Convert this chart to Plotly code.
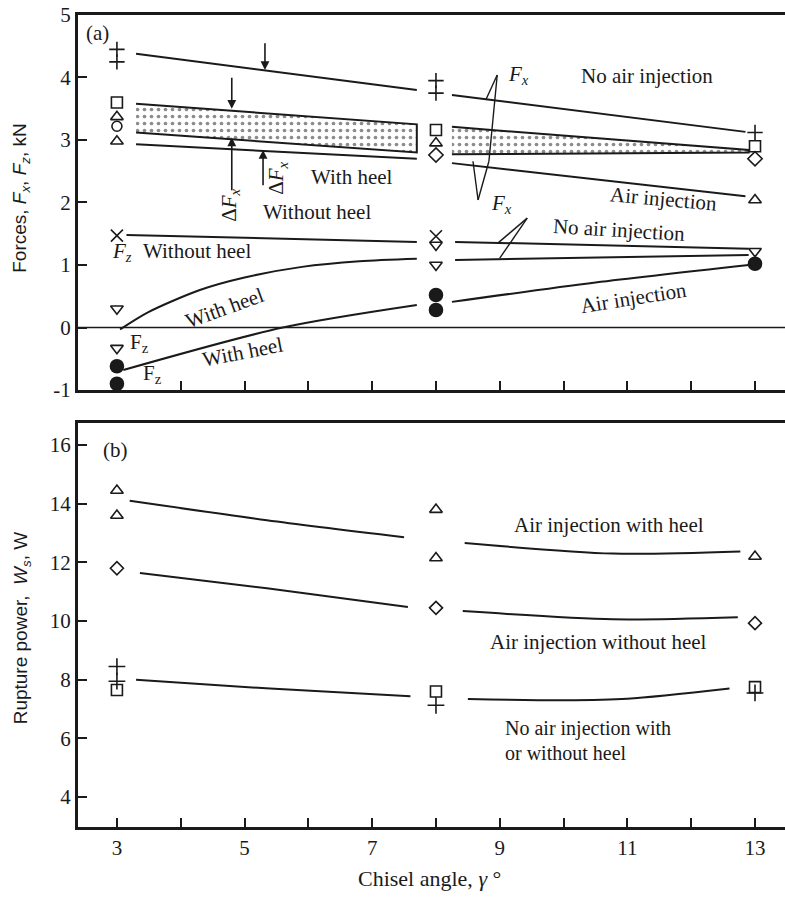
import plotly.graph_objects as go

# ---------------- data: panel (a) markers ----------------
a_plus_x = [3, 3, 8, 8, 13]
a_plus_y = [4.45, 4.25, 3.95, 3.75, 3.12]
a_square_x = [3, 8, 13]
a_square_y = [3.60, 3.16, 2.90]
a_triup_x = [3, 3, 8, 13]
a_triup_y = [3.37, 2.98, 2.95, 2.04]
a_circle_x = [3]
a_circle_y = [3.22]
a_diamond_x = [8, 13]
a_diamond_y = [2.76, 2.70]
a_cross_x = [3, 8]
a_cross_y = [1.47, 1.46]
a_tridown_x = [3, 3, 8, 8, 13]
a_tridown_y = [0.30, -0.33, 1.32, 1.00, 1.22]
a_dot_x = [3, 3, 8, 8, 13]
a_dot_y = [-0.62, -0.90, 0.52, 0.28, 1.02]

# ---------------- data: panel (a) curves ----------------
fx_noair_l_x = [3.3, 7.7];  fx_noair_l_y = [4.38, 3.80]
fx_noair_r_x = [8.25, 12.85]; fx_noair_r_y = [3.72, 3.13]
band_up_l_x = [3.3, 7.7];  band_up_l_y = [3.58, 3.25]
band_lo_l_x = [3.3, 7.7];  band_lo_l_y = [3.12, 2.80]
band_up_r_x = [8.25, 12.9]; band_up_r_y = [3.21, 2.84]
band_lo_r_x = [8.25, 12.9]; band_lo_r_y = [2.77, 2.80]
fx_air_l_x = [3.3, 7.7];  fx_air_l_y = [2.93, 2.70]
fx_air_r_x = [8.25, 12.85]; fx_air_r_y = [2.63, 2.10]
fz_noheel_l_x = [3.15, 7.7]; fz_noheel_l_y = [1.48, 1.37]
fz_noheel_r_x = [8.3, 12.9]; fz_noheel_r_y = [1.37, 1.26]
fz_heel_l_x = [3.05, 3.5, 4.3, 5.0, 5.9, 6.8, 7.7]
fz_heel_l_y = [-0.03, 0.25, 0.60, 0.80, 0.97, 1.06, 1.10]
fz_heel_r_x = [8.3, 12.9]; fz_heel_r_y = [1.08, 1.16]
fz_air_l_x = [3.1, 5.6, 7.7]; fz_air_l_y = [-0.68, 0.0, 0.36]
fz_air_r_x = [8.25, 10.5, 12.9]; fz_air_r_y = [0.41, 0.72, 1.00]

# ---------------- data: panel (b) markers ----------------
b_tri_x = [3, 3, 8, 8, 13]
b_tri_y = [14.45, 13.60, 13.80, 12.15, 12.20]
b_diamond_x = [3, 8, 13]
b_diamond_y = [11.80, 10.45, 9.93]
b_plus_x = [3, 3, 8, 13]
b_plus_y = [8.45, 7.95, 7.13, 7.55]
b_square_x = [3, 8, 13]
b_square_y = [7.65, 7.60, 7.75]

# ---------------- data: panel (b) curves ----------------
ws_heel_l_x = [3.2, 5.35, 7.5];  ws_heel_l_y = [14.1, 13.44, 12.86]
ws_heel_r_x = [8.45, 10.77, 12.77]; ws_heel_r_y = [12.66, 12.30, 12.37]
ws_noheel_l_x = [3.36, 5.35, 7.56]; ws_noheel_l_y = [11.64, 11.12, 10.48]
ws_noheel_r_x = [8.42, 10.77, 12.73]; ws_noheel_r_y = [10.34, 10.06, 10.13]
ws_noair_l_x = [3.3, 5.4, 7.6]; ws_noair_l_y = [8.0, 7.70, 7.44]
ws_noair_r_x = [8.5, 10.0, 11.0, 12.6]; ws_noair_r_y = [7.34, 7.30, 7.35, 7.70]

x_ticks = list(range(3, 14))
x_ticktext = [str(v) if v % 2 == 1 else "" for v in x_ticks]
a_yticks = [-1, 0, 1, 2, 3, 4, 5]
b_yticks = [4, 6, 8, 10, 12, 14, 16]

SERIF = "Liberation Serif"
INK = "#1a1a1a"
LBL = 21

fig = go.Figure()

def curve(xs, ys, ax="x", ay="y", w=2):
    fig.add_trace(go.Scatter(x=xs, y=ys, mode="lines", xaxis=ax, yaxis=ay,
                             line=dict(color=INK, width=w, shape="spline", smoothing=0.8),
                             showlegend=False, hoverinfo="skip"))

def marks(xs, ys, sym, size, ax="x", ay="y", lw=1.6):
    fig.add_trace(go.Scatter(x=xs, y=ys, mode="markers", xaxis=ax, yaxis=ay,
                             marker=dict(symbol=sym, size=size, color=INK,
                                         line=dict(color=INK, width=lw)),
                             showlegend=False, hoverinfo="skip"))

def band(ux, uy, lx, ly):
    fig.add_trace(go.Scatter(x=ux + lx[::-1], y=uy + ly[::-1], mode="lines",
                             fill="toself", fillcolor="white",
                             fillpattern=dict(shape=".", size=7, solidity=0.22,
                                              fgcolor=INK, bgcolor="white"),
                             line=dict(color=INK, width=2),
                             showlegend=False, hoverinfo="skip"))

# zero line
fig.add_trace(go.Scatter(x=[2.39, 13.47], y=[0, 0], mode="lines",
                         line=dict(color=INK, width=1.3), showlegend=False, hoverinfo="skip"))

band(band_up_l_x, band_up_l_y, band_lo_l_x, band_lo_l_y)
band(band_up_r_x, band_up_r_y, band_lo_r_x, band_lo_r_y)
for xs, ys in [(fx_noair_l_x, fx_noair_l_y), (fx_noair_r_x, fx_noair_r_y),
               (fx_air_l_x, fx_air_l_y), (fx_air_r_x, fx_air_r_y),
               (fz_noheel_l_x, fz_noheel_l_y), (fz_noheel_r_x, fz_noheel_r_y),
               (fz_heel_l_x, fz_heel_l_y), (fz_heel_r_x, fz_heel_r_y),
               (fz_air_l_x, fz_air_l_y), (fz_air_r_x, fz_air_r_y)]:
    curve(xs, ys)

marks(a_plus_x, a_plus_y, "cross-thin-open", 11)
marks(a_square_x, a_square_y, "square-open", 11)
marks(a_triup_x, a_triup_y, "triangle-up-open", 11)
marks(a_circle_x, a_circle_y, "circle-open", 10)
marks(a_diamond_x, a_diamond_y, "diamond-open", 11)
marks(a_cross_x, a_cross_y, "x-thin-open", 12)
marks(a_tridown_x, a_tridown_y, "triangle-down-open", 11)
marks(a_dot_x, a_dot_y, "circle", 13)

for xs, ys in [(ws_heel_l_x, ws_heel_l_y), (ws_heel_r_x, ws_heel_r_y),
               (ws_noheel_l_x, ws_noheel_l_y), (ws_noheel_r_x, ws_noheel_r_y),
               (ws_noair_l_x, ws_noair_l_y), (ws_noair_r_x, ws_noair_r_y)]:
    curve(xs, ys, "x2", "y2")

marks(b_tri_x, b_tri_y, "triangle-up-open", 11, "x2", "y2")
marks(b_diamond_x, b_diamond_y, "diamond-open", 10, "x2", "y2")
marks(b_plus_x, b_plus_y, "cross-thin-open", 12, "x2", "y2")
marks(b_square_x, b_square_y, "square-open", 11, "x2", "y2")

ann = []
def txt(x, y, t, size=LBL, xref="x", yref="y", angle=0, xanchor="center",
        yanchor="middle", family=SERIF, align="center"):
    ann.append(dict(x=x, y=y, xref=xref, yref=yref, text=t, showarrow=False,
                    textangle=angle, xanchor=xanchor, yanchor=yanchor, align=align,
                    font=dict(family=family, size=size, color=INK)))

def arrow(x, y0, y1):
    ann.append(dict(x=x, y=y1, ax=x, ay=y0, xref="x", yref="y", axref="x", ayref="y",
                    text="", showarrow=True, arrowhead=2, arrowsize=1.1,
                    arrowwidth=1.6, arrowcolor=INK))

# panel (a) labels
txt(2.69, 4.71, "(a)")
txt(9.29, 4.04, "<i>F<sub>x</sub></i>")
txt(11.31, 4.02, "No air injection")
txt(6.68, 2.41, "With heel")
txt(6.13, 1.85, "Without heel")
txt(11.57, 2.06, "Air injection", angle=5)
txt(9.02, 1.97, "<i>F<sub>x</sub></i>")
txt(10.87, 1.56, "No air injection", angle=3.5)
txt(3.08, 1.21, "<i>F<sub>z</sub></i>")
txt(4.26, 1.22, "Without heel")
txt(4.69, 0.31, "With heel", angle=-20)
txt(3.36, -0.24, "F<sub>z</sub>")
txt(4.98, -0.39, "With heel", angle=-11)
txt(3.55, -0.74, "F<sub>z</sub>")
txt(11.09, 0.48, "Air injection", angle=-9)
txt(4.76, 1.95, "Δ<i>F<sub>x</sub></i>", angle=-90)
txt(5.51, 2.38, "Δ<i>F<sub>x</sub></i>", angle=-90)

arrow(5.32, 4.57, 4.12)
arrow(4.8, 4.02, 3.50)
arrow(4.8, 2.17, 3.04)
arrow(5.29, 2.25, 2.84)

# panel (b) labels
txt(2.97, 15.83, "(b)", xref="x2", yref="y2")
txt(10.71, 13.27, "Air injection with heel", xref="x2", yref="y2")
txt(10.54, 9.28, "Air injection without heel", xref="x2", yref="y2")
txt(9.05, 6.33, "No air injection with", xref="x2", yref="y2", xanchor="left", size=20)
txt(9.05, 5.52, "or without heel", xref="x2", yref="y2", xanchor="left", size=20)

# axis titles
txt(-0.08, 0.78, "Forces, <i>F<sub>x</sub></i>, <i>F<sub>z</sub></i>, kN", xref="paper", yref="paper",
    angle=-90, size=19, family="Liberation Sans")
txt(-0.08, 0.30, "Rupture power,  <i>W<sub>s</sub></i>, W", xref="paper", yref="paper",
    angle=-90, size=19, family="Liberation Sans")
txt(0.497, 0.004, "Chisel angle, <i>γ</i> °", xref="paper", yref="paper", size=22,
    yanchor="bottom")

shapes = []
def seg(x0, y0, x1, y1):
    shapes.append(dict(type="line", xref="x", yref="y", x0=x0, y0=y0, x1=x1, y1=y1,
                       line=dict(color=INK, width=1.4)))
# F_x pointer wedges
seg(8.96, 4.04, 8.78, 3.64)
seg(8.96, 4.04, 8.83, 2.66)
seg(8.66, 2.04, 8.58, 2.66)
seg(8.66, 2.04, 8.83, 2.66)
# F_z pointer wedge
seg(9.43, 1.75, 8.97, 1.35)
seg(9.43, 1.75, 9.00, 1.11)

xr = [2.39, 13.47]
axis_common = dict(showline=True, linecolor=INK, linewidth=3, ticks="inside", ticklen=9,
                   tickwidth=1.6, tickcolor=INK, showgrid=False, zeroline=False,
                   automargin=False,
                   tickfont=dict(family=SERIF, size=21, color=INK))

fig.update_layout(
    width=785, height=897, margin=dict(l=78, r=0, t=0, b=0, autoexpand=False),
    paper_bgcolor="white", plot_bgcolor="white",
    xaxis=dict(axis_common, domain=[0, 1], range=xr, anchor="y", mirror=True,
               tickvals=x_ticks, showticklabels=False),
    yaxis=dict(axis_common, domain=[0.5652, 0.9833], range=[-1, 5], anchor="x",
               tickvals=a_yticks, ticktext=[str(v) for v in a_yticks]),
    xaxis2=dict(axis_common, domain=[0, 1], range=xr, anchor="y2", mirror=True,
                tickvals=x_ticks, ticktext=x_ticktext),
    yaxis2=dict(axis_common, domain=[0.078, 0.5284], range=[2.98, 16.75], anchor="x2",
                tickvals=b_yticks),
    annotations=ann, shapes=shapes, showlegend=False,
)

fig.write_html("out.html")
